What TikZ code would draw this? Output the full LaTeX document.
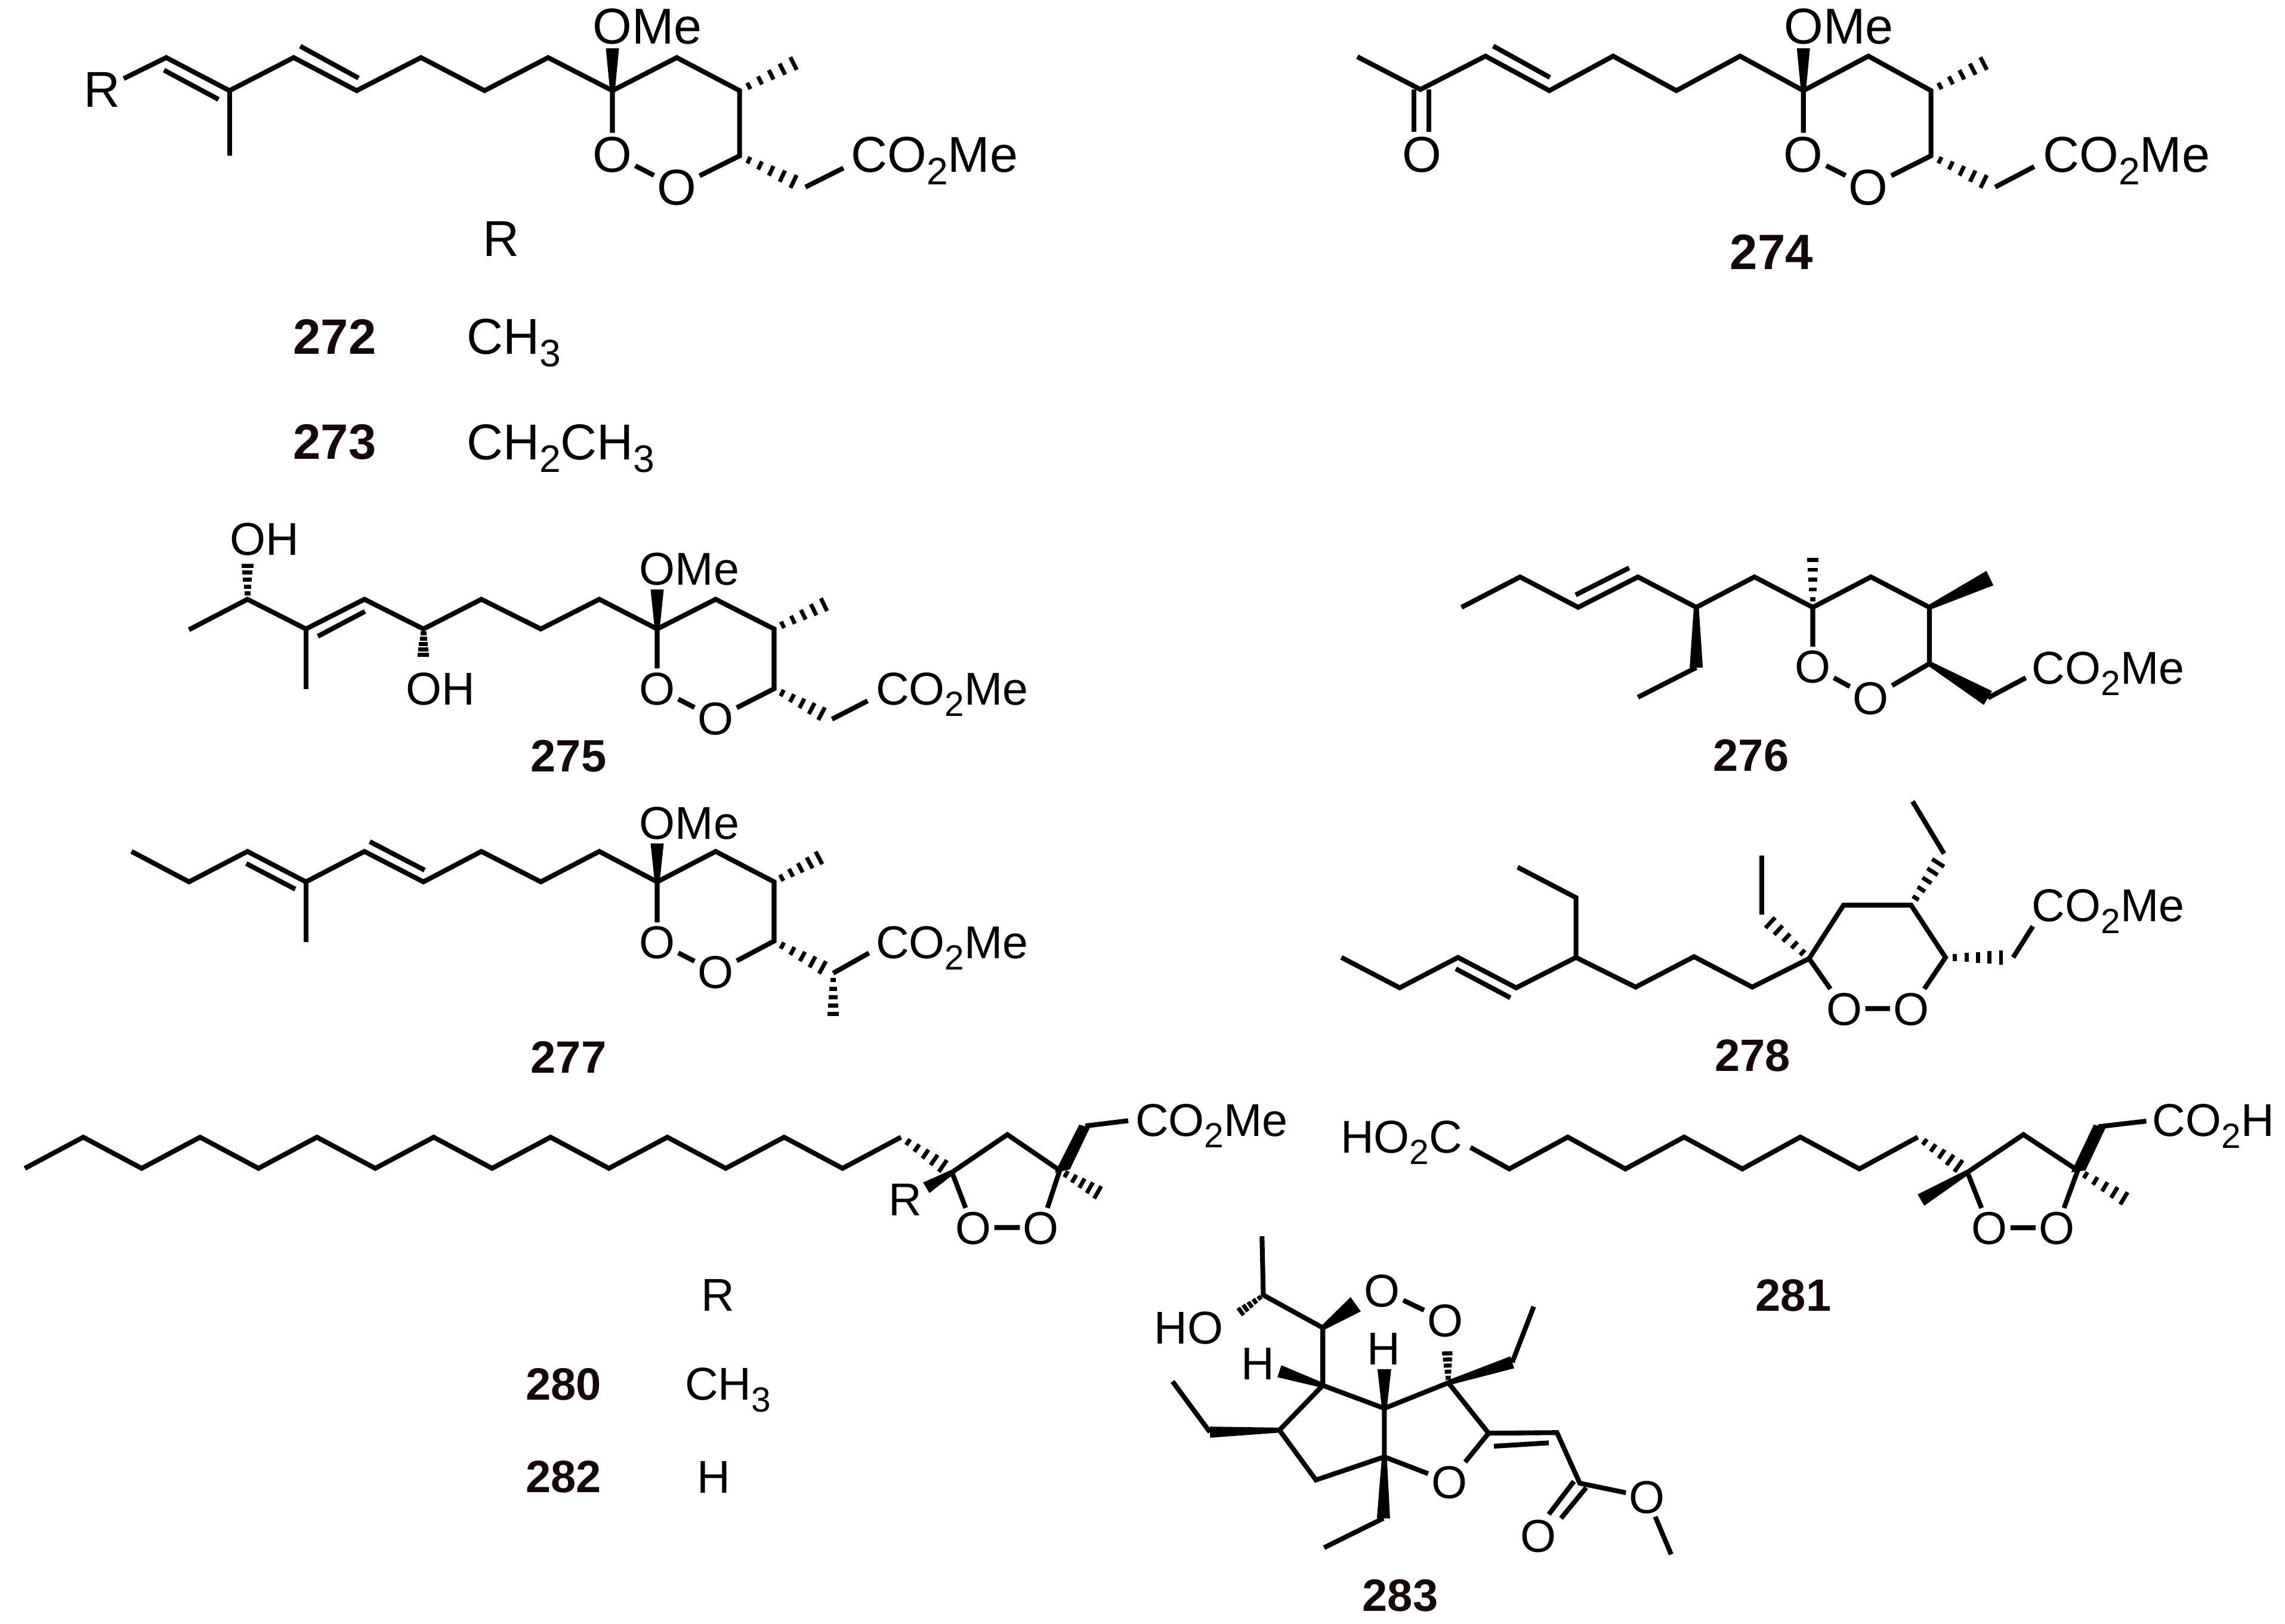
\documentclass[tikz,border=0pt]{standalone}
\usepackage{fontspec}
\usepackage{graphicx}
\setmainfont{Liberation Sans}
\usetikzlibrary{calc}
\definecolor{labelink}{HTML}{140808}
\newcommand{\chemsub}[1]{\raisebox{-.25em}{\scalebox{.76}{#1}}}
\newcommand{\wedgebond}[3][4.5]{\fill ($(#2)!1.7pt!90:(#3)$) -- ($(#3)!#1pt!-90:(#2)$) -- ($(#3)!#1pt!90:(#2)$) -- ($(#2)!1.7pt!-90:(#3)$) -- cycle;}
\newcommand{\hashbond}[3][5.5]{\foreach \t in {0.14,0.31,0.48,0.65,0.82,1}{\draw[hash] ($(#2)!\t!(#3)!{(0.35+0.65*\t)*#1pt}!90:(#3)$) -- ($(#2)!\t!(#3)!{(0.35+0.65*\t)*#1pt}!-90:(#3)$);}}
\tikzset{
  bond/.style={line width=3.3pt},
  hash/.style={line width=2.8pt},
  atom/.style={font=\fontsize{31.5}{31.5}\selectfont,inner sep=2pt,text height=22.5pt,text depth=0pt},
  bigatom/.style={font=\fontsize{34.5}{34.5}\selectfont,inner sep=2pt,text height=24.6pt,text depth=0pt},
  molname/.style={font=\fontsize{31}{31}\bfseries\selectfont,text=labelink,inner sep=0pt,text height=22pt,text depth=0pt},
  bigname/.style={font=\fontsize{34}{34}\bfseries\selectfont,text=labelink,inner sep=0pt,text height=24.3pt,text depth=0pt}
}
\begin{document}
\begin{tikzpicture}[x=1pt,y=-1pt]
\path[use as bounding box,fill=white] (0,0) rectangle (1563.3,1111);
% 272, 273
\foreach \n/\x/\y in {A1/113.7/39.4,A2/157/62,A3/157/106.6,A4/200.9/39.4,A5/244/62,A6/288/39.4,A7/331.5/62,A8/375/39.4,A9/419/62,A10/463/39.4,A11/506/62,A12/551/39.4,A13/506/106.6,A14/551/128,A15/577/115,A16/419/33,A1b/112.2/48,A2b/149.5/68,A4b/205.4/31.6,A5b/245.3/53.4}
  \coordinate (\n) at (\x,\y);
\node[bigatom] (AR) at (70,61) {R};
\node[bigatom] (AOMe) at (443,17.6) {OMe};
\node[bigatom] (AO1) at (419,105.4) {O};
\node[bigatom] (AO2) at (463,128) {O};
\node[bigatom,anchor=west,inner sep=0pt] (Aester) at (582,105.4) {CO\chemsub{2}Me};
\draw[bond] (AR) -- (A1) -- (A2) -- (A4) -- (A5) -- (A6) -- (A7) -- (A8) -- (A9) -- (A10) -- (A11) -- (A13) -- (AO2) -- (AO1) -- (A9);
\draw[bond] (A2) -- (A3);
\draw[bond] (A1b) -- (A2b);
\draw[bond] (A4b) -- (A5b);
\draw[bond] (A14) -- (A15);
\wedgebond[4.5]{A9}{A16}
\hashbond{A11}{A12}
\hashbond{A13}{A14}
\node[bigatom] (Rhead) at (343,163) {R};
\node[bigname] (n272) at (229,230) {272};
\node[bigname] (n273) at (229,302) {273};
\node[bigatom,anchor=west,inner sep=0pt] (r272) at (319,230) {CH\chemsub{3}};
\node[bigatom,anchor=west,inner sep=0pt] (r273) at (319,302) {CH\chemsub{2}CH\chemsub{3}};
% 274
\foreach \n/\x/\y in {B1/928.6/38.8,B2/971.8/61.2,B3/1016.3/38.4,B4/1060/62,B5/1103.6/38.4,B6/1146.9/62,B7/1190.5/38.4,B8/1233.8/62,B9/1278.3/38.4,B10/1321.1/62,B11/1365/39.4,B12/1321.1/106.6,B13/1365/128,B14/1391.7/114,B15/1233.8/33,B3b/1021.6/31.5,B4b/1060.4/53,Bx1/967.4/61.2,Bx2/967.4/90.4,Bx3/977.6/61.2,Bx4/977.6/90.4}
  \coordinate (\n) at (\x,\y);
\node[bigatom] (BO3) at (972.7,105.4) {O};
\node[bigatom] (BOMe) at (1258,17.6) {OMe};
\node[bigatom] (BO1) at (1233.8,105.4) {O};
\node[bigatom] (BO2) at (1278.3,128) {O};
\node[bigatom,anchor=west,inner sep=0pt] (Bester) at (1397.5,105.4) {CO\chemsub{2}Me};
\draw[bond] (B1) -- (B2) -- (B3) -- (B4) -- (B5) -- (B6) -- (B7) -- (B8) -- (B9) -- (B10) -- (B12) -- (BO2) -- (BO1) -- (B8);
\draw[bond] (Bx1) -- (Bx2);
\draw[bond] (Bx3) -- (Bx4);
\draw[bond] (B3b) -- (B4b);
\draw[bond] (B13) -- (B14);
\wedgebond[4.5]{B8}{B15}
\hashbond{B10}{B11}
\hashbond{B12}{B13}
\node[bigname] (n274) at (1212,172) {274};
% 275
\foreach \n/\x/\y in {C1/129.3/430.8,C2/169.3/410,C3/169.3/382,C4/209.3/430.3,C5/209.3/471.5,C6/249.3/410,C7/289.7/430.3,C8/289.7/452,C9/329.3/410,C10/370/430.3,C11/410/410,C12/449.6/430.3,C13/449.6/403.3,C14/489.6/410,C15/529.6/430.3,C16/571.2/410,C17/529.6/471.2,C18/569.2/492,C19/593.6/479.5,C4b/217.5/435.3,C6b/249.7/418.3}
  \coordinate (\n) at (\x,\y);
\node[atom] (COH1) at (181,368.7) {OH};
\node[atom] (COH2) at (301.5,470.8) {OH};
\node[atom] (COMe) at (471.6,389) {OMe};
\node[atom] (CO1) at (449.6,470.8) {O};
\node[atom] (CO2) at (489.6,491.5) {O};
\node[atom,anchor=west,inner sep=0pt] (Cester) at (599,470.8) {CO\chemsub{2}Me};
\draw[bond] (C1) -- (C2) -- (C4) -- (C6) -- (C7) -- (C9) -- (C10) -- (C11) -- (C12) -- (C14) -- (C15) -- (C17) -- (CO2) -- (CO1) -- (C12);
\draw[bond] (C4) -- (C5);
\draw[bond] (C4b) -- (C6b);
\draw[bond] (C18) -- (C19);
\wedgebond[4.5]{C12}{C13}
\hashbond[4.5]{C2}{C3}
\hashbond[4.5]{C7}{C8}
\hashbond{C15}{C16}
\hashbond{C17}{C18}
\node[molname] (n275) at (389,517) {275};
% 276
\foreach \n/\x/\y in {D1/999.9/415.5,D2/1040/394.7,D3/1079.7/415.5,D4/1120.6/394.7,D5/1160.5/415.5,D6/1160.5/456.7,D7/1120.6/477,D8/1200.3/394.7,D9/1240.2/415.5,D10/1240.2/376,D11/1280/394.7,D12/1320/415.5,D13/1361.4/395.5,D14/1320/454,D15/1360/477.5,D16/1386/463.7,D3b/1078/407,D4b/1114.6/388.5}
  \coordinate (\n) at (\x,\y);
\node[atom] (DO1) at (1240.2,455.9) {O};
\node[atom] (DO2) at (1280,477.5) {O};
\node[atom,anchor=west,inner sep=0pt] (Dester) at (1390,456.6) {CO\chemsub{2}Me};
\draw[bond] (D1) -- (D2) -- (D3) -- (D4) -- (D5) -- (D8) -- (D9) -- (D11) -- (D12) -- (D14) -- (DO2) -- (DO1) -- (D9);
\draw[bond] (D6) -- (D7);
\draw[bond] (D15) -- (D16);
\draw[bond] (D3b) -- (D4b);
\wedgebond[4.5]{D5}{D6}
\wedgebond[5.5]{D12}{D13}
\wedgebond[5.5]{D14}{D15}
\hashbond[4.5]{D9}{D10}
\node[molname] (n276) at (1198,516.5) {276};
% 277
\foreach \n/\x/\y in {E0/90/582.5,E1/129.3/603.3,E2/169.3/582.5,E3/209.3/603.3,E4/209.3/644.5,E5/249.3/582.5,E6/289.7/603.3,E7/329.3/582.5,E8/370/603.3,E9/410/582.5,E10/449.6/603.3,E11/449.6/577,E12/489.6/582.5,E13/529.6/603.3,E14/567/583.3,E15/529.6/643.8,E16/570/665.8,E17/594.5/652,E18/570/700,E2b/168.5/590.8,E3b/202/608.3,E5b/253/575.8,E6b/290.5/595.3}
  \coordinate (\n) at (\x,\y);
\node[atom] (EOMe) at (471.6,563) {OMe};
\node[atom] (EO1) at (449.6,644.5) {O};
\node[atom] (EO2) at (489.6,665) {O};
\node[atom,anchor=west,inner sep=0pt] (Eester) at (599,644.5) {CO\chemsub{2}Me};
\draw[bond] (E0) -- (E1) -- (E2) -- (E3) -- (E5) -- (E6) -- (E7) -- (E8) -- (E9) -- (E10) -- (E12) -- (E13) -- (E15) -- (EO2) -- (EO1) -- (E10);
\draw[bond] (E3) -- (E4);
\draw[bond] (E2b) -- (E3b);
\draw[bond] (E5b) -- (E6b);
\draw[bond] (E16) -- (E17);
\wedgebond[4.5]{E10}{E11}
\hashbond{E13}{E14}
\hashbond{E15}{E16}
\hashbond[4.5]{E16}{E18}
\node[molname] (n277) at (389,723) {277};
% 278
\foreach \n/\x/\y in {F1/917.7/655,F2/957.6/675.8,F3/997.5/655,F4/1037.3/675.8,F5/1078.2/655,F6/1078.2/614.1,F7/1038.3/593.3,F8/1119/675.3,F9/1159/654.5,F10/1198.8/675.3,F11/1237.7/655.8,F12/1205.3/625.9,F13/1205.3/585.5,F14/1261.2/619.3,F15/1307.5/619.3,F16/1330/584,F17/1308.5/548.3,F18/1331/655,F19/1377.3/655,F20/1390.8/633.7,F3b/996/662.8,F4b/1033.3/682.6}
  \coordinate (\n) at (\x,\y);
\node[atom] (FO1) at (1261.7,690) {O};
\node[atom] (FO2) at (1307.5,690) {O};
\node[atom,anchor=west,inner sep=0pt] (Fester) at (1390,619.3) {CO\chemsub{2}Me};
\draw[bond] (F1) -- (F2) -- (F3) -- (F4) -- (F5) -- (F8) -- (F9) -- (F10) -- (F11) -- (F14) -- (F15) -- (F18) -- (FO2) -- (FO1) -- (F11);
\draw[bond] (F5) -- (F6) -- (F7);
\draw[bond] (F12) -- (F13);
\draw[bond] (F16) -- (F17);
\draw[bond] (F19) -- (F20);
\draw[bond] (F3b) -- (F4b);
\hashbond{F11}{F12}
\hashbond{F15}{F16}
\hashbond{F18}{F19}
\node[molname] (n278) at (1199,722) {278};
% 280, 282
\foreach \n/\x/\y in {G1/651.3/802,G2/689.2/776.2,G3/725/800.7,G4/742.6/770.3,G5/771.9/766.7,G6/756.7/819,G7/633.7/812.6,Ga/721.6/802.3,Gb/732/800,Gc/745.7/771.4,Gd/738.4/769.4}
  \coordinate (\n) at (\x,\y);
\draw[bond] (17,799.3) \foreach \k in {1,...,15} {-- ++(39.96,{21.3*(-1)^\k})} coordinate (Gend);
\node[atom] (GO1) at (665.8,839.8) {O};
\node[atom] (GO2) at (712.2,839.8) {O};
\node[atom] (GR) at (619.2,820.4) {R};
\node[atom,anchor=west,inner sep=0pt] (Gester) at (776.6,766) {CO\chemsub{2}Me};
\draw[bond] (G1) -- (G2) -- (G3) -- (GO2) -- (GO1) -- (G1);
\draw[bond] (G4) -- (G5);
\fill (Ga) -- (Gb) -- (Gc) -- (Gd) -- cycle;
\wedgebond[4.2]{G1}{G7}
\hashbond{Gend}{G1}
\hashbond{G3}{G6}
\node[atom] (Rfoot) at (491,885.7) {R};
\node[molname] (n280) at (385.6,946.6) {280};
\node[molname] (n282) at (385.6,1010) {282};
\node[atom,anchor=west,inner sep=0pt] (r280) at (468.4,946.6) {CH\chemsub{3}};
\node[atom] (r282) at (488.4,1010) {H};
% 281
\foreach \n/\x/\y in {H1/1006/785,H2/1032.6/799.7,H3/1072.6/777.9,H4/1112/799.7,H5/1152.2/777.9,H6/1192/799.7,H7/1231.7/777.9,H8/1272.1/799.7,H9/1312.1/777.9,H10/1346/802,H11/1314.2/821,H12/1384.3/776.2,H13/1421.5/800.7,H14/1435.7/770.8,H15/1468.4/767,H16/1460/824,Ha/1417/802,Hb/1426.8/800.7,Hc/1440.6/771.5,Hd/1432.5/769.4}
  \coordinate (\n) at (\x,\y);
\node[atom,anchor=west,inner sep=0pt] (Hacid) at (917,777.6) {HO\chemsub{2}C};
\node[atom,anchor=west,inner sep=0pt] (Hester) at (1472.4,766.3) {CO\chemsub{2}H};
\node[atom] (HO1) at (1361,839.9) {O};
\node[atom] (HO2) at (1407.2,839.9) {O};
\draw[bond] (H1) -- (H2) -- (H3) -- (H4) -- (H5) -- (H6) -- (H7) -- (H8) -- (H9);
\draw[bond] (H10) -- (H12) -- (H13) -- (HO2) -- (HO1) -- (H10);
\draw[bond] (H14) -- (H15);
\fill (Ha) -- (Hb) -- (Hc) -- (Hd) -- cycle;
\wedgebond[4.5]{H10}{H11}
\hashbond{H9}{H10}
\hashbond{H13}{H16}
\node[molname] (n281) at (1227,886) {281};
% 283
\foreach \n/\x/\y in {J1/863.4/845.8,J2/864.3/886,J3/845.6/899.7,J4/905/908.4,J5/927.5/892.3,J6/905/947.8,J7/875.3/938.1,J8/947.1/963.5,J9/947.1/936.7,J10/990.9/946,J11/990/921.5,J12/1034.6/932,J13/1049.3/893.9,J14/1018.4/980.5,J15/1065.2/980.1,J16/947.1/996.7,J17/875.3/978.4,J18/827.8/979.8,J19/802.2/945.1,J20/900.3/1012.5,J21/946.5/1038.7,J22/905.9/1058.8,J23/1080.8/1014.7,J24/1143.3/1063.4,J14b/1022.1/989.4,J15b/1059.6/987.1,Jx1/1076.8/1013.4,Jx2/1059.6/1036,Jx3/1085.2/1017.7,Jx4/1068/1038.7}
  \coordinate (\n) at (\x,\y);
\node[atom] (JHO) at (813.4,908.1) {HO};
\node[atom] (JO1) at (945.6,882.7) {O};
\node[atom] (JO2) at (988.7,903.2) {O};
\node[atom] (JH1) at (860.6,932.5) {H};
\node[atom] (JH2) at (946.5,922.4) {H};
\node[atom] (JO3) at (991.5,1013.7) {O};
\node[atom] (JO4) at (1052.4,1050.4) {O};
\node[atom] (JO5) at (1126.8,1024.2) {O};
\draw[bond] (J1) -- (J2) -- (J4) -- (J6) -- (J8) -- (J10) -- (J14) -- (J15) -- (J23) -- (JO5) -- (J24);
\draw[bond] (J6) -- (J17) -- (J20) -- (J16) -- (J8);
\draw[bond] (J14) -- (JO3) -- (J16);
\draw[bond] (JO1) -- (JO2);
\draw[bond] (J12) -- (J13);
\draw[bond] (J18) -- (J19);
\draw[bond] (J21) -- (J22);
\draw[bond] (J14b) -- (J15b);
\draw[bond] (Jx1) -- (Jx2);
\draw[bond] (Jx3) -- (Jx4);
\hashbond[3.5]{J2}{J3}
\hashbond[4]{J10}{J11}
\wedgebond[6]{J4}{J5}
\wedgebond[4.3]{J6}{J7}
\wedgebond[4.7]{J8}{J9}
\wedgebond[4.3]{J10}{J12}
\wedgebond[3.8]{J17}{J18}
\wedgebond[4.5]{J16}{J21}
\node[molname] (n283) at (958,1091.2) {283};
\end{tikzpicture}
\end{document}
